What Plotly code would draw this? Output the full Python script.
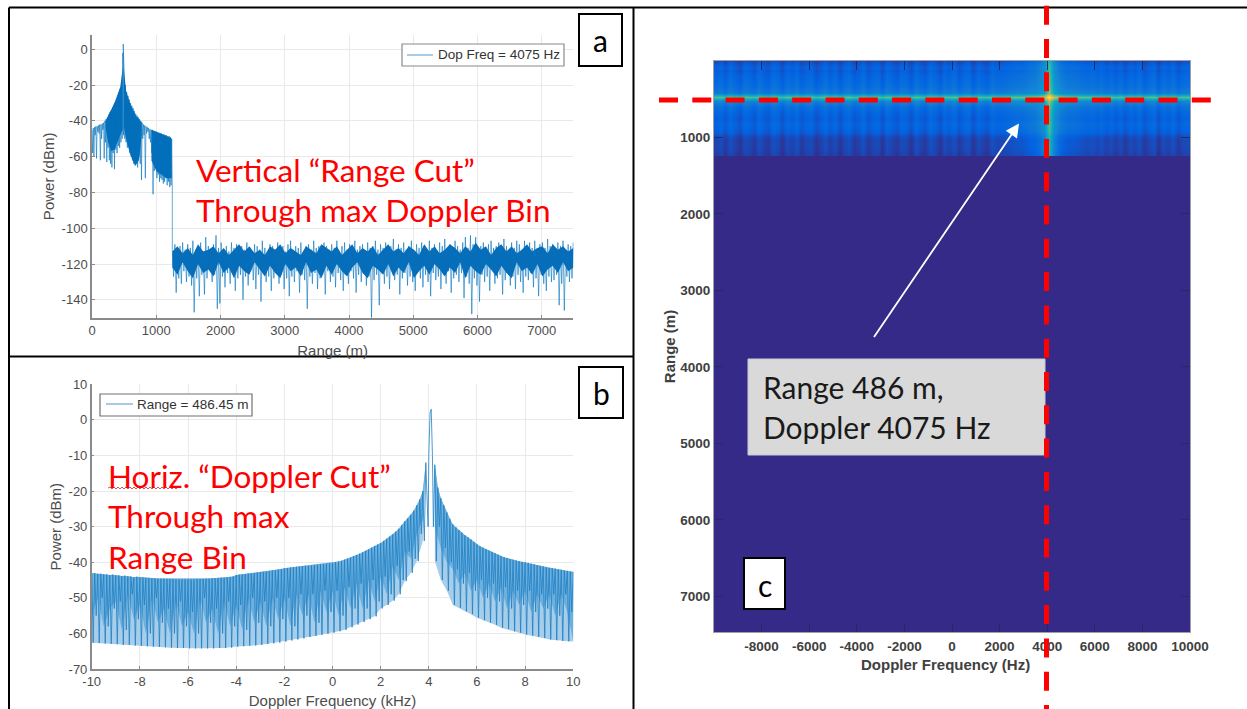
import plotly.graph_objects as go

W, H = 1247, 709

# ---------- panel a: range cut ----------
a_near_left_hi = [-45,-44,-43.5,-43,-43,-42.5,-42,-42,-41.5,-41,-40,-39,-38,-36.5,-35,-34,-32.5,-31,-29.5,-28,-26,-24,-22,-19,-2]
a_near_left_lo = [-58,-60,-48,-61,-46,-47,-62,-50,-45,-61,-52,-63,-55,-62,-64,-66,-58,-67,-56,-58,-54,-55,-52,-50,-48]
a_peak_x = [486]
a_peak_y = [3]
a_near_right_hi = [-12,-20,-24,-26,-28,-30,-31.5,-33,-34.5,-36,-37,-38,-39,-40,-41,-42,-42.5,-43,-43.5,-44,-44.5,-45,-45,-45.5,-46,-46,-46.5,-46.5,-47,-47,-47.5,-47.5,-48,-48,-48.5,-48.5,-49,-50]
a_near_right_lo = [-50,-52,-55,-54,-58,-60,-62,-64,-65,-62,-66,-60,-64,-73,-50,-48,-72,-47,-46,-50,-52,-58,-81,-68,-66,-72,-70,-74,-72,-73,-75,-74,-72,-76,-74,-77,-76,-78]
# solid dark blocks of the near-range skirt
a_block1_x = [210,250,300,350,400,440,478,478,440,400,350,300,250,210]
a_block1_y = [-40,-37,-34,-30,-25,-21,-10,-45,-48,-52,-56,-57,-52,-44]
a_block2_x = [494,530,580,630,680,730,775,775,730,680,630,580,530,494]
a_block2_y = [-10,-23,-29,-33,-37,-39,-41,-48,-62,-65,-62,-57,-50,-43]
a_block3_x = [925,1000,1080,1160,1240,1240,1160,1080,1000,925]
a_block3_y = [-45,-46,-47.5,-48.5,-50,-72,-72,-70,-68,-62]
a_noise_hi = [
 -112,-109,-113,-110,-108,-112,-109,-111,-107,-112,
 -110,-108,-113,-105,-110,-112,-109,-104,-111,-108,
 -112,-110,-113,-108,-111,-109,-113,-110,-112,-108,
 -111,-113,-109,-110,-112,-107,-111,-113,-109,-110,
 -112,-108,-111,-110,-113,-109,-107,-112,-110,-111,
 -108,-113,-110,-109,-112,-107,-111,-110,-113,-108,
 -110,-112,-109,-111,-107,-113,-110,-108,-112,-109,
 -111,-107,-112,-110,-109,-113,-108,-111,-110,-107,
 -112,-109,-111,-108,-113,-110,-106,-112,-109,-111,
 -108,-112,-110,-107,-113,-109,-111,-108,-110,-112,
 -107,-111,-109,-113,-108,-110,-106,-112,-109,-111,
 -107,-110,-112,-108,-105,-111,-104,-109,-105,-112,
 -110,-108,-113,-109,-107,-111,-110,-108,-112,-106,
 -110,-113,-108,-111,-107,-109,-112,-107,-110,-108,
 -111,-107,-112,-109,-108,-111,-106,-110,-109,-112,
 -108,-110,-107,-112,-109,-110,-108]
a_noise_lo = [
 -127,-136,-128,-131,-124,-130,-127,-132,-147,-128,
 -138,-126,-137,-128,-123,-130,-126,-145,-142,-127,
 -133,-125,-131,-124,-135,-128,-126,-140,-127,-132,
 -124,-129,-134,-126,-141,-125,-130,-127,-135,-128,
 -125,-131,-126,-134,-128,-138,-127,-130,-124,-136,
 -126,-129,-145,-127,-131,-125,-134,-128,-126,-137,
 -124,-130,-127,-133,-125,-129,-135,-126,-131,-124,
 -128,-136,-126,-130,-125,-132,-127,-150,-129,-126,
 -143,-125,-131,-127,-134,-124,-129,-126,-137,-128,
 -125,-132,-127,-130,-135,-124,-128,-133,-126,-130,
 -138,-125,-129,-127,-134,-126,-131,-124,-136,-128,
 -126,-130,-125,-139,-127,-131,-148,-128,-132,-141,
 -126,-130,-127,-135,-124,-131,-128,-126,-137,-129,
 -125,-132,-127,-134,-126,-130,-136,-127,-129,-125,
 -133,-128,-138,-126,-131,-135,-127,-130,-129,-126,
 -143,-131,-146,-127,-130,-128,-126]
# solid core of the noise floor, sampled every 80 m from 1250 m
a_core_hi = [-113,-110,-114,-111,-115,-109,-113,-112,-110,-114,-111,-115,-112,-109,-113,-110,-114,-112,-115,-110,
             -112,-109,-114,-111,-113,-115,-110,-112,-114,-109,-111,-113,-110,-115,-112,-109,-114,-111,-113,-110,
             -115,-112,-109,-113,-111,-114,-110,-112,-115,-109,-113,-110,-114,-112,-109,-111,-114,-110,-113,-108,
             -112,-110,-115,-111,-109,-113,-110,-114,-112,-109,-113,-111,-110,-114,-109,-112,-110,-113,-111]
a_core_lo = [-122,-126,-119,-124,-128,-120,-125,-123,-127,-119,-125,-122,-128,-121,-124,-126,-119,-123,-127,-121,
             -125,-128,-120,-124,-122,-127,-119,-125,-123,-128,-121,-126,-120,-124,-127,-122,-119,-125,-128,-121,
             -123,-126,-120,-127,-122,-125,-119,-128,-124,-121,-126,-120,-123,-127,-122,-125,-119,-128,-121,-124,
             -126,-120,-123,-127,-121,-125,-128,-119,-124,-122,-126,-120,-127,-123,-121,-125,-119,-124,-122]

# ---------- panel b: Doppler cut, tooth tops and bottoms ----------
b_left_hi = [
 -43.0,-43.1,-43.3,-43.2,-43.4,-43.4,-43.6,-43.5,
 -43.7,-43.7,-43.9,-43.8,-44.0,-44.0,-44.2,-44.1,
 -44.2,-44.3,-44.4,-44.4,-44.5,-44.5,-44.6,-44.6,
 -44.6,-44.7,-44.7,-44.7,-44.8,-44.8,-44.8,-44.8,
 -44.8,-44.8,-44.8,-44.7,-44.7,-44.7,-44.6,-44.6,
 -44.5,-44.5,-44.4,-44.3,-44.3,-44.2,-44.1,-44.0,
 -43.6,-43.5,-43.4,-43.3,-43.2,-43.1,-43.0,-42.9,
 -42.8,-42.7,-42.6,-42.5,-42.3,-42.2,-42.0,-41.9,
 -41.7,-41.6,-41.5,-41.4,-41.3,-41.2,-41.1,-41.0,
 -41.0,-40.9,-40.8,-40.7,-40.6,-40.5,-40.4,-40.3,
 -40.2,-40.0,-39.8,-39.6,-39.3,-39.0,-38.7,-38.3,
 -38.0,-37.6,-37.2,-36.8,-36.4,-35.9,-35.4,-35.0,
 -34.6,-34.0,-33.4,-32.8,-32.2,-31.4,-30.6,-29.6,
 -28.5,-27.7,-26.7,-25.5,-24.0,-22.3,-20.0,-12.0]
b_left_lo = [
 -62.6,-55,-62.7,-50,-62.8,-58,-62.9,-53,
 -63.0,-51,-63.2,-59,-63.2,-49,-63.4,-56,
 -63.5,-52,-63.6,-60,-63.7,-50,-63.8,-57,
 -63.9,-53,-64.0,-60,-64.1,-51,-64.1,-58,
 -64.2,-54,-64.2,-60,-64.2,-50,-64.2,-57,
 -64.2,-53,-64.1,-60,-64.1,-51,-64.0,-58,
 -63.7,-52,-63.6,-59,-63.5,-50,-63.4,-57,
 -63.2,-51,-63.0,-58,-62.8,-50,-62.6,-56,
 -62.3,-50,-62.0,-58,-61.7,-49,-61.4,-55,
 -61.0,-49,-60.7,-57,-60.4,-48,-60.1,-54,
 -59.8,-48,-59.4,-55,-59.0,-47,-58.3,-53,
 -57.5,-46,-56.8,-53,-56.0,-45,-55.2,-51,
 -53.0,-44,-52.0,-49,-50.8,-41,-49.0,-45,
 -45.3,-37,-43.0,-39,-39.7,-32,-34.0,-28]
b_lobe_x = [3.97,4.0,4.05,4.10,4.15,4.19]
b_lobe_y = [-30,-10,2,3,-10,-30]
b_right_hi = [
 -12.6,-19,-22,-24,-26,-27.8,
 -29.4,-30.2,-31,-31.7,-32.4,-33,-33.6,-34.3,
 -35,-35.5,-35.9,-36.3,-36.7,-37.1,-37.5,-37.9,
 -38.3,-38.6,-38.8,-39.1,-39.3,-39.5,-39.7,-39.9,
 -40,-40.2,-40.4,-40.6,-40.8,-41,-41.2,-41.4,
 -41.6,-41.7,-41.8,-42,-42.1,-42.3,-42.4,-42.6,
 -42.7]
b_right_lo = [
 -39.7,-30,-45,-36,-48,-40,
 -52,-42,-52.8,-46,-53.8,-43,-54.6,-48,
 -55.6,-45,-56.3,-50,-57,-46,-57.6,-51,
 -58.4,-47,-58.8,-53,-59.4,-48,-59.8,-52,
 -60.3,-48,-60.6,-54,-61,-49,-61.3,-53,
 -61.7,-49,-61.9,-55,-62.1,-49,-62.2,-54,
 -62.3]

# ---------- panel c: range-Doppler map levels (0-1 of the colour scale) ----------
c_row_level = [.04,.08,.12,.11,.13,.14,.15,.17,.21,.55,.24,.17,.14,.12,.11,.13,.12,.11,.07,.05,.055,.05,.04]
c_col_level = [
 .00,.02,-.02,.03,.00,-.03,.02,.01,-.02,.03,
 .00,-.02,.03,.01,-.03,.02,.00,.03,-.02,.01,
 .02,-.03,.00,.03,-.01,.02,-.03,.01,.03,-.02,
 .00,.03,-.02,.01,.02,-.03,.03,.00,-.02,.02,
 .01,-.03,.03,.00,-.02,.03,.01,-.03,.02,.00,
 .03,-.02,.01,.03,-.03,.02,.00,-.02,.03,.01,
 .01,.02,.03,.04,.04,.05,.07,.08,.11,.17,
 .42,.18,.10,.07,.05,.05,.04,.03,.02,.03,
 .01,.03,.00,.02,-.01,.02,-.02,.02,.00,.03,
 -.02,.01,.03,-.03,.02,.00,.03,-.02,.01,.02,
 .00]
c_scale = [[0,"#352a87"],[.125,"#0363e1"],[.25,"#1485d4"],[.375,"#06a4ca"],[.5,"#2eb7a4"],
           [.625,"#87bf77"],[.75,"#d1bb59"],[.875,"#fec832"],[1,"#f9fb0e"]]

a_ticks_x = [0,1000,2000,3000,4000,5000,6000,7000]
a_ticks_y = [0,-20,-40,-60,-80,-100,-120,-140]
b_ticks_x = [-10,-8,-6,-4,-2,0,2,4,6,8,10]
b_ticks_y = [10,0,-10,-20,-30,-40,-50,-60,-70]
c_ticks_x = [-8000,-6000,-4000,-2000,0,2000,4000,6000,8000,10000]
c_ticks_y = [1000,2000,3000,4000,5000,6000,7000]

LINE = "#0072BD"
DARK = "#0b6cb8"

# assemble panel a
ax, ay = [], []
for i, (h, l) in enumerate(zip(a_near_left_hi, a_near_left_lo)):
    ax += [20*i, 20*i+10]; ay += [h, l]
ax += a_peak_x; ay += a_peak_y
for i, (h, l) in enumerate(zip(a_near_right_hi, a_near_right_lo)):
    ax += [500+20*i, 510+20*i]; ay += [h, l]
for i, (h, l) in enumerate(zip(a_noise_hi, a_noise_lo)):
    ax += [1250+40*i, 1270+40*i]; ay += [h, l]
core_x = [1250+80*i for i in range(len(a_core_hi))]

# assemble panel b
bx, by = [], []
for i, (h, l) in enumerate(zip(b_left_hi, b_left_lo)):
    bx += [-10+.125*i, -10+.125*i+.0625]; by += [h, l]
bx += b_lobe_x; by += b_lobe_y
for i, (h, l) in enumerate(zip(b_right_hi, b_right_lo)):
    bx += [4.25+.125*i, 4.25+.125*i+.0625]; by += [h, l]
left_x = [-10+.125*i for i in range(len(b_left_hi))]
right_x = [4.25+.125*i for i in range(len(b_right_hi))]
left_deep = [min(b_left_lo[i], b_left_lo[i+1]) for i in range(0, len(b_left_lo), 2)]
left_shallow = [max(b_left_lo[i], b_left_lo[i+1]) for i in range(0, len(b_left_lo), 2)]
right_deep = b_right_lo[::2]
right_shallow = b_right_lo[1::2] + [b_right_lo[-1]]

# assemble panel c
heat_x = [-9925+200*i for i in range(len(c_col_level))]
heat_y = [-41+57*i for i in range(len(c_row_level))]
heat_z = [[r+c for c in c_col_level] for r in c_row_level]

fig = go.Figure()
for xs, hi, deep, shallow in ((left_x, b_left_hi, left_deep, left_shallow), (right_x, b_right_hi, right_deep, right_shallow)):
    dx = xs[::2]
    fig.add_trace(go.Scatter(x=xs+dx[::-1], y=hi+deep[::-1], mode="lines", fill="toself", fillcolor="#a6cde9",
                             line=dict(width=0), xaxis="x2", yaxis="y2", showlegend=False, hoverinfo="skip"))
    fig.add_trace(go.Scatter(x=xs+dx[::-1], y=hi+shallow[::-1], mode="lines", fill="toself", fillcolor="#6db0de",
                             line=dict(width=0), xaxis="x2", yaxis="y2", showlegend=False, hoverinfo="skip"))
for bkx, bky in ((core_x+core_x[::-1], a_core_hi+a_core_lo[::-1]), (a_block1_x, a_block1_y),
                 (a_block2_x, a_block2_y), (a_block3_x, a_block3_y)):
    fig.add_trace(go.Scatter(x=bkx, y=bky, mode="lines", fill="toself", fillcolor=DARK,
                             line=dict(width=0), xaxis="x", yaxis="y", showlegend=False, hoverinfo="skip"))
fig.add_trace(go.Scatter(x=ax, y=ay, mode="lines", name="Dop Freq = 4075 Hz", xaxis="x", yaxis="y",
                         line=dict(color=LINE, width=0.6), showlegend=False))
fig.add_trace(go.Scatter(x=bx, y=by, mode="lines", name="Range = 486.45 m", xaxis="x2", yaxis="y2",
                         line=dict(color="#1f80c4", width=0.8), showlegend=False))
fig.add_trace(go.Heatmap(x=heat_x, y=heat_y, z=heat_z, xaxis="x3", yaxis="y3", colorscale=c_scale,
                         zmin=0, zmax=1, showscale=False, zsmooth="best", hoverinfo="skip"))

def xd(a, b): return [a/W, b/W]
def yd(top, bot): return [1-bot/H, 1-top/H]
def X(p): return p/W
def Y(p): return 1-p/H
def labels(vals): return [str(v) for v in vals]

GRAY = "#4d4d4d"
AX = "#8a8a8a"
SANS = "Liberation Sans, Arial, sans-serif"
tick = dict(family=SANS, size=13, color=GRAY)
title = dict(family=SANS, size=15, color=GRAY)
common = dict(showline=True, linecolor=AX, linewidth=1.5, ticks="inside", ticklen=3, tickcolor=AX, automargin=False,
              showgrid=True, gridcolor="#e9e9e9", gridwidth=1, zeroline=False, tickfont=tick)
cax = dict(showline=True, linecolor="#a0a0a0", linewidth=1, ticks="inside", ticklen=9, tickcolor="#262a5e", automargin=False,
           showgrid=False, zeroline=False, mirror="ticks",
           tickfont=dict(family=SANS, size=13.5, color="#404040", weight="bold"))
ctitle = dict(family=SANS, size=15, color="#404040", weight="bold")

shapes = []
def line(x0, y0, x1, y1, color="black", width=2, dash=None):
    shapes.append(dict(type="line", xref="paper", yref="paper", x0=X(x0), y0=Y(y0), x1=X(x1), y1=Y(y1),
                       line=dict(color=color, width=width, dash=dash)))
def box(x0, y0, x1, y1, fill, color="black", width=2):
    shapes.append(dict(type="rect", xref="paper", yref="paper", x0=X(x0), y0=Y(y0), x1=X(x1), y1=Y(y1),
                       fillcolor=fill, line=dict(color=color, width=width)))

line(9, 7.5, 1247, 7.5); line(9, 7.5, 9, 709); line(633.5, 7.5, 633.5, 709); line(9, 356.5, 633.5, 356.5)
box(579, 14, 622, 66, "white"); box(579, 367, 623, 418, "white")
box(748, 359, 1045, 455, "#d9d9d9", color="#c8c8d8", width=1)
box(744, 558, 785, 609, "white")
box(402, 44, 564, 66, "white", color="#8a8a8a", width=1.2)
line(407, 55, 433, 55, color="#6aaad8", width=1.2)
box(100, 394, 252, 416, "white", color="#707070", width=1.2)
line(106, 404, 133, 404, color="#6aaad8", width=1.2)
line(659, 100, 1215, 100, color="#ff0000", width=5, dash="19px,14.3px")
line(1046.5, 5.7, 1046.5, 709, color="#ff0000", width=5, dash="19px,14.3px")
# proofing squiggle under "Horiz."
squiggle = "M {} {}".format(X(108), Y(488))
for k in range(1, 36):
    squiggle += " L {} {}".format(X(108+2*k), Y(487 if k % 2 else 489))
shapes.append(dict(type="path", xref="paper", yref="paper", path=squiggle, line=dict(color="#e04040", width=0.9)))

def text(x, y, s, size=31.5, color="#ff0000", anchor="left"):
    return dict(xref="paper", yref="paper", x=X(x), y=Y(y), text=s, showarrow=False, xanchor=anchor, yanchor="middle",
                font=dict(family="Lato, sans-serif", size=size, color=color))
def small(x, y, s):
    return dict(xref="paper", yref="paper", x=X(x), y=Y(y), text=s, showarrow=False, xanchor="left", yanchor="middle",
                font=dict(family=SANS, size=13.5, color="#333333"))

ann = [
    small(436, 55, "Dop Freq = 4075 Hz"),
    small(135, 404.5, "Range = 486.45 m"),
    text(194, 170, "Vertical “Range Cut”"),
    text(194, 210, "Through max Doppler Bin"),
    text(106, 476, "Horiz. “Doppler Cut”"),
    text(106, 516, "Through max"),
    text(106, 557, "Range Bin"),
    text(761, 387, "Range 486 m,", size=30, color="#1a1a1a"),
    text(761, 427, "Doppler 4075 Hz", size=30, color="#1a1a1a"),
    text(600.5, 40, "a", size=30, color="black", anchor="center"),
    text(601, 393, "b", size=30, color="black", anchor="center"),
    text(764.5, 585, "c", size=30, color="black", anchor="center"),
    dict(xref="paper", yref="paper", x=X(945.5), y=Y(664), text="Doppler Frequency (Hz)", showarrow=False,
         xanchor="center", yanchor="middle", font=ctitle),
    dict(xref="x3", yref="y3", x=2815, y=817, ax=-146, ay=215, axref="pixel", ayref="pixel", text="",
         showarrow=True, arrowhead=2, arrowsize=1.5, arrowwidth=1.8, arrowcolor="white"),
]

fig.update_layout(
    width=W, height=H, margin=dict(l=0, r=0, t=0, b=0, pad=0, autoexpand=False), autosize=False,
    paper_bgcolor="white", plot_bgcolor="white",
    showlegend=False,
    xaxis=dict(domain=xd(92, 573.3), range=[0, 7490], tickvals=a_ticks_x, ticktext=labels(a_ticks_x), anchor="y",
               title=dict(text="Range (m)", font=title, standoff=8), **common),
    yaxis=dict(domain=yd(35, 317.7), range=[-150, 8], tickvals=a_ticks_y, ticktext=labels(a_ticks_y), anchor="x",
               title=dict(text="Power (dBm)", font=title, standoff=3), **common),
    xaxis2=dict(domain=xd(91.7, 573.3), range=[-10, 10], tickvals=b_ticks_x, ticktext=labels(b_ticks_x), anchor="y2",
                title=dict(text="Doppler Frequency (kHz)", font=title, standoff=9), **common),
    yaxis2=dict(domain=yd(384.3, 669), range=[-70, 10], tickvals=b_ticks_y, ticktext=labels(b_ticks_y), anchor="x2",
                title=dict(text="Power (dBm)", font=title, standoff=3), **common),
    xaxis3=dict(domain=xd(714, 1190), range=[-10000, 10000], tickvals=c_ticks_x, ticktext=labels(c_ticks_x), anchor="y3",
                ticklabelstandoff=2, **cax),
    yaxis3=dict(domain=yd(61, 632), range=[7465, 0], tickvals=c_ticks_y, ticktext=labels(c_ticks_y), anchor="x3",
                title=dict(text="Range (m)", standoff=1, font=ctitle), **cax),
    shapes=shapes, annotations=ann,
)
fig.add_shape(type="rect", xref="paper", yref="paper", x0=X(714), x1=X(1190), y0=Y(61), y1=Y(632),
              fillcolor="#352a87", line_width=0, layer="below")

fig.write_html("out.html", config={"displayModeBar": False, "responsive": False},
               post_script="document.documentElement.style.overflow='hidden';document.body.style.margin='0';")
